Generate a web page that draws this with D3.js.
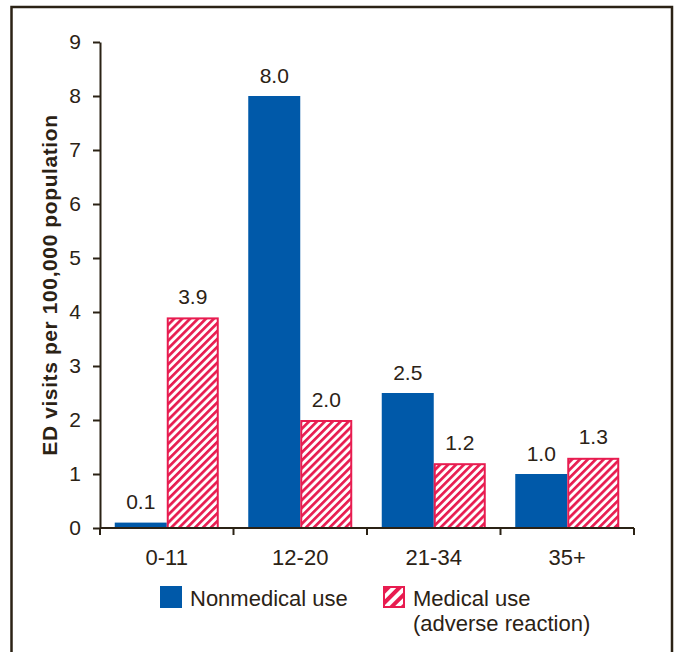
<!DOCTYPE html>
<html lang="en">
<head>
  <meta charset="utf-8">
  <title>ED visits by age</title>
  <style>
    body { margin: 0; background: white; }
    text { font-family: "Liberation Sans", Arial, Helvetica, sans-serif; fill: #2b2215; }
  </style>
</head>
<body>
<script src="https://d3js.org/d3.v7.min.js"></script>
<script>
  // data
  var categories = ["0-11", "12-20", "21-34", "35+"];
  var seriesNames = ["Nonmedical use", "Medical use"];
  var nonmedical = [0.1, 8.0, 2.5, 1.0];
  var medical = [3.9, 2.0, 1.2, 1.3];
  var yTicks = [0, 1, 2, 3, 4, 5, 6, 7, 8, 9];

  var width = 675, height = 652;
  var ink = "#2b2215", blue = "#0059a9", pink = "#e81c50";

  var svg = d3.select("body").append("svg")
      .attr("width", width).attr("height", height)
      .style("background", "white");

  var defs = svg.append("defs");
  function hatch(id, size, thick) {
    var p = defs.append("pattern").attr("id", id)
        .attr("patternUnits", "userSpaceOnUse")
        .attr("width", size).attr("height", size)
        .attr("patternTransform", "rotate(45)");
    p.append("rect").attr("width", size).attr("height", size).attr("fill", "white");
    p.append("rect").attr("width", thick).attr("height", size).attr("fill", pink);
  }
  hatch("hatch", 5.6, 2.7);
  hatch("hatchBig", 8, 4);

  // frame
  var frame = svg.append("g").attr("stroke", ink).attr("stroke-width", 2.5).attr("fill", "none");
  frame.append("path").attr("d", "M11.5,652 V7 H672 V652");

  var y = d3.scaleLinear().domain([0, 9]).range([528, 42]);
  var x0 = d3.scaleBand().domain(categories).range([100, 634]);
  var groupW = 104;
  var x1 = d3.scaleBand().domain(seriesNames).range([0, groupW]);
  var off = (x0.bandwidth() - groupW) / 2;

  var rows = categories.map(function(c, i) {
    return [{cat: c, s: seriesNames[0], v: nonmedical[i]},
            {cat: c, s: seriesNames[1], v: medical[i]}];
  });
  var flat = [].concat.apply([], rows);

  // bars
  svg.append("g").selectAll("rect").data(flat).enter().append("rect")
      .attr("x", function(d){ return x0(d.cat) + off + x1(d.s) + (d.s === seriesNames[1] ? 1 : 0); })
      .attr("y", function(d){ return y(d.v) + (d.s === seriesNames[1] ? 1 : 0); })
      .attr("width", function(d){ return x1.bandwidth() - (d.s === seriesNames[1] ? 2 : 0); })
      .attr("height", function(d){ return y(0) - y(d.v) - (d.s === seriesNames[1] ? 1 : 0); })
      .attr("fill", function(d){ return d.s === seriesNames[0] ? blue : "url(#hatch)"; })
      .attr("stroke", function(d){ return d.s === seriesNames[0] ? "none" : pink; })
      .attr("stroke-width", 2);

  // value labels
  svg.append("g").selectAll("text").data(flat).enter().append("text")
      .attr("x", function(d){ return x0(d.cat) + off + x1(d.s) + x1.bandwidth() / 2; })
      .attr("y", function(d){ return y(d.v) - 13.5; })
      .attr("text-anchor", "middle")
      .style("font-size", "21px")
      .text(function(d){ return d.v.toFixed(1); });

  // y axis
  var yAxis = svg.append("g").attr("transform", "translate(100,0)")
      .call(d3.axisLeft(y).tickValues(yTicks).tickSize(7).tickPadding(12).tickSizeOuter(0));
  yAxis.select(".domain").attr("stroke", ink).attr("stroke-width", 2);
  yAxis.selectAll(".tick line").attr("stroke", ink).attr("stroke-width", 2);
  yAxis.selectAll(".tick text").style("font-size", "21px").attr("fill", ink)
      .style("font-family", "'Liberation Sans', Arial, sans-serif");

  // x axis: ticks at category boundaries, labels at centres
  var xa = svg.append("g");
  xa.append("line").attr("x1", 100).attr("x2", 634).attr("y1", 528).attr("y2", 528)
      .attr("stroke", ink).attr("stroke-width", 2);
  var bounds = categories.map(function(c){ return x0(c); }).concat([x0.range()[1]]);
  xa.selectAll("line.t").data(bounds).enter().append("line").attr("class", "t")
      .attr("x1", function(d){ return d; }).attr("x2", function(d){ return d; })
      .attr("y1", 528).attr("y2", 535).attr("stroke", ink).attr("stroke-width", 2);
  xa.selectAll("text").data(categories).enter().append("text")
      .attr("x", function(d){ return x0(d) + x0.bandwidth() / 2; })
      .attr("y", 565).attr("text-anchor", "middle")
      .style("font-size", "22px")
      .text(function(d){ return d; });

  // y title
  svg.append("text")
      .attr("transform", "translate(57,285) rotate(-90)")
      .attr("text-anchor", "middle")
      .style("font-size", "21px").style("font-weight", "bold")
      .style("letter-spacing", "0.6px")
      .text("ED visits per 100,000 population");

  // legend
  var lg = svg.append("g");
  lg.append("rect").attr("x", 160).attr("y", 586).attr("width", 22).attr("height", 22).attr("fill", blue);
  lg.append("text").attr("x", 190).attr("y", 606).style("font-size", "22px").text("Nonmedical use");
  lg.append("rect").attr("x", 384).attr("y", 587).attr("width", 20).attr("height", 20)
      .attr("fill", "url(#hatchBig)").attr("stroke", pink).attr("stroke-width", 2);
  lg.append("text").attr("x", 413).attr("y", 606).style("font-size", "22px").text("Medical use");
  lg.append("text").attr("x", 413).attr("y", 631).style("font-size", "22px").text("(adverse reaction)");
</script>
</body>
</html>
